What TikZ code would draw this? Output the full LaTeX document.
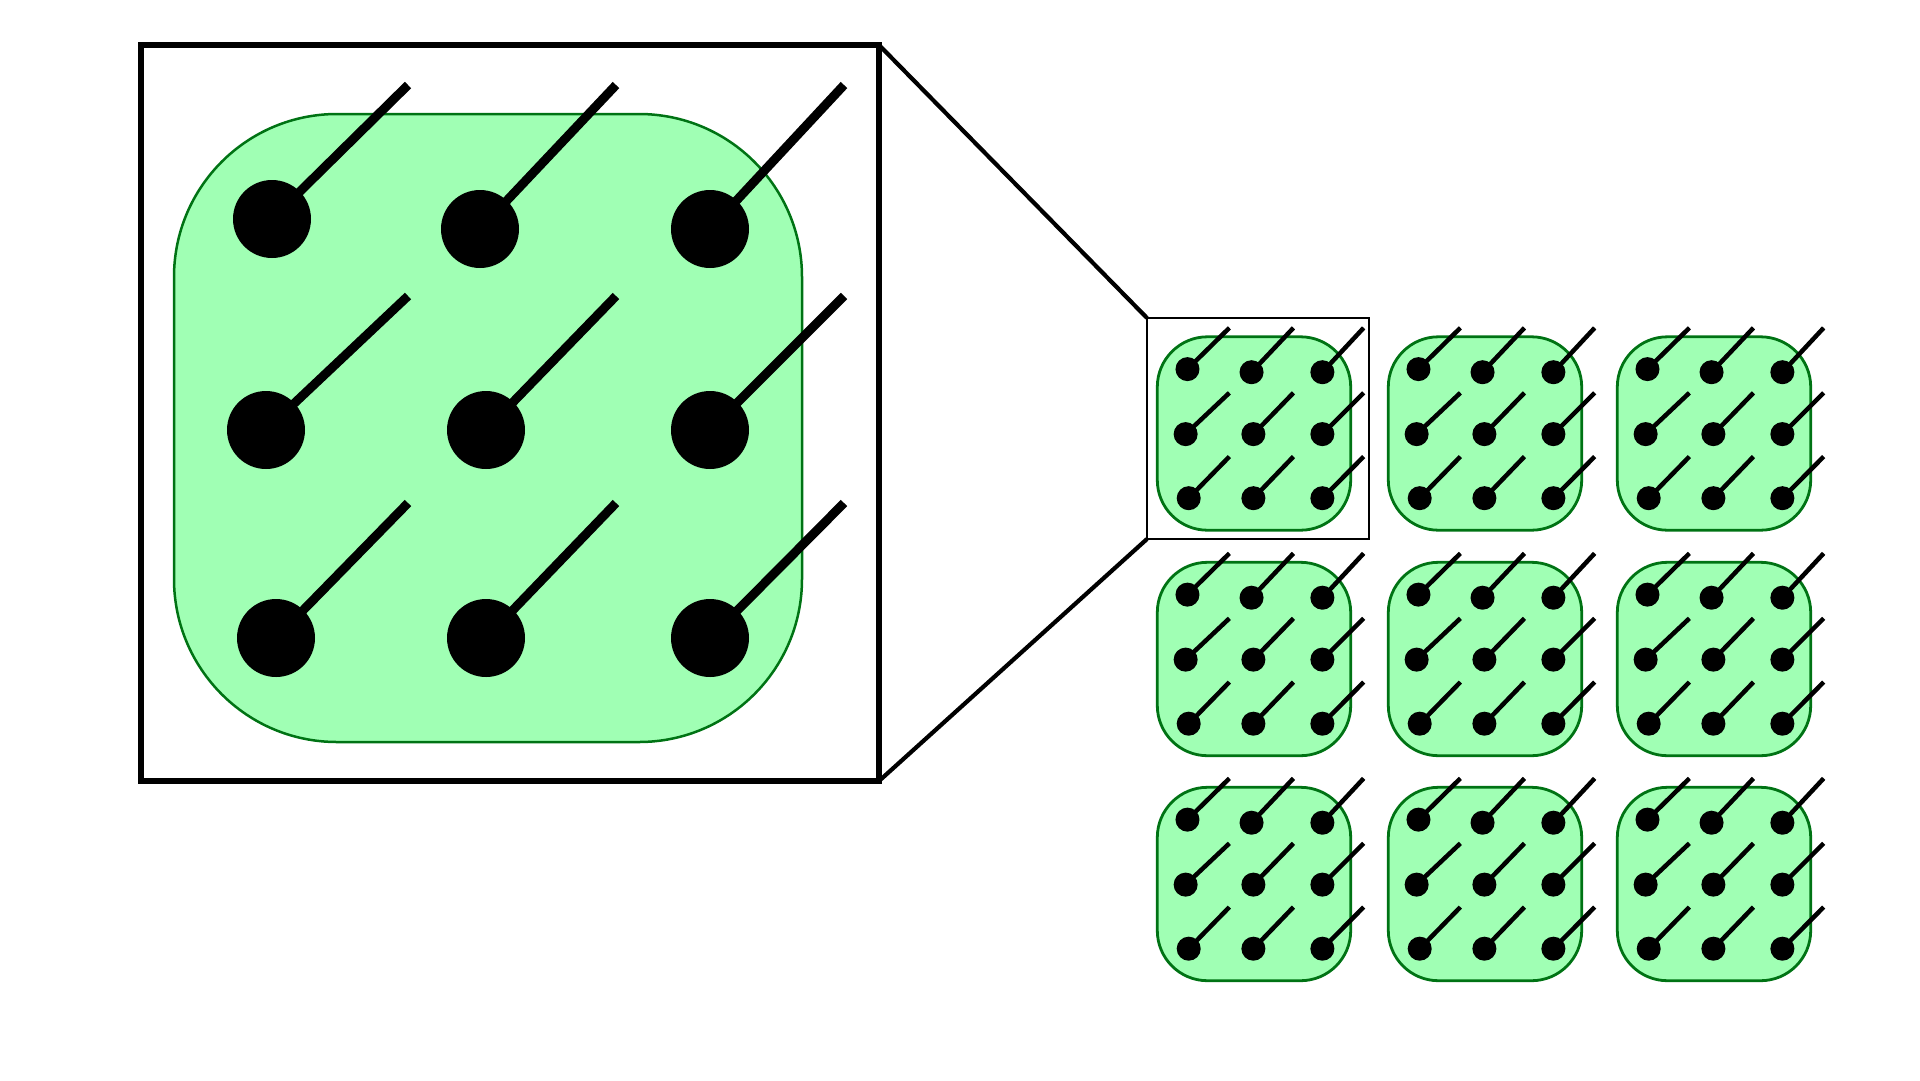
\documentclass[tikz,border=0pt]{standalone}
\definecolor{tilefill}{RGB}{160,255,180}
\definecolor{tileedge}{RGB}{0,115,20}
\tikzset{
  tilebody/.style={fill=tilefill, draw=tileedge},
  stick/.style={draw=black, line cap=butt},
  dotmark/.style={fill=black},
  frameline/.style={draw=black, line cap=butt, line join=miter},
}
\newcommand{\drawtile}[5]{%
  \begin{scope}[shift={(#1,#2)}, scale=#3]
    \pgfmathsetmacro{\rr}{163*#3}
    \draw[tilebody, line width=#5, rounded corners=\rr pt] (-314,-314) rectangle (314,314);
    \foreach \dx/\dy/\ex/\ey in {-216/-209/-80/-343, -8/-199/128/-343, 222/-199/356/-343,
                                 -222/2/-80/-132, -2/2/128/-132, 222/2/356/-132,
                                 -212/210/-80/75, -2/210/128/75, 222/210/356/75}{
      \draw[stick, line width=#4] (\dx,\dy) -- (\ex,\ey);
      \fill[dotmark] (\dx,\dy) circle (39);
    }
  \end{scope}}
\begin{document}
\begin{tikzpicture}[x=1pt, y=-1pt]
  \useasboundingbox (0,0) rectangle (1920,1080);
  % big zoomed tile
  \drawtile{488}{428}{1}{9pt}{2.5pt}
  \coordinate (bigTL) at (141,45);
  \coordinate (bigTR) at (879,45);
  \coordinate (bigBR) at (879,781);
  \coordinate (bigBL) at (141,781);
  \draw[frameline, line width=6.5pt] (bigTL) -- (bigTR) -- (bigBR) -- (bigBL) -- cycle;
  % grid of small tiles
  \foreach \cx in {1254,1485,1714}{
    \foreach \cy in {433.5,659,884}{
      \drawtile{\cx}{\cy}{0.308}{4.5pt}{2.8pt}
    }
  }
  % highlight box
  \coordinate (hlTL) at (1147,318);
  \coordinate (hlTR) at (1369,318);
  \coordinate (hlBR) at (1369,539);
  \coordinate (hlBL) at (1147,539);
  \draw[frameline, line width=2.8pt] (hlTL) -- (hlTR) -- (hlBR) -- (hlBL) -- cycle;
  % zoom connectors
  \draw[frameline, line width=4.2pt] (bigTR) -- (hlTL);
  \draw[frameline, line width=4.2pt] (bigBR) -- (hlBL);
\end{tikzpicture}
\end{document}
